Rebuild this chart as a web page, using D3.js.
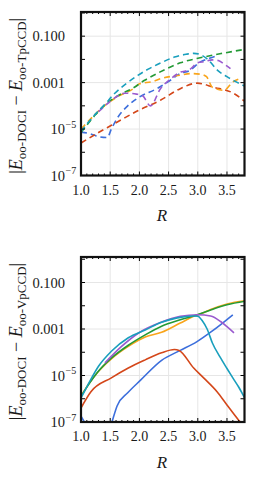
<!DOCTYPE html>
<html>
<head>
<meta charset="utf-8">
<script src="https://cdn.jsdelivr.net/npm/d3@7"></script>
<style>
body { margin: 0; background: #fff; }
text { font-family: 'Liberation Serif', 'DejaVu Serif', serif; fill: #1a1a1a; }
</style>
</head>
<body>
<svg id="chart" width="258" height="484"></svg>
<script>
// axis ticks
const xTicks = [1.0, 1.5, 2.0, 2.5, 3.0, 3.5]
const xTickLabels = ['1.0', '1.5', '2.0', '2.5', '3.0', '3.5']
const yTicks = [1e-1, 1e-3, 1e-5, 1e-7]
const yTickBase = ['0.100', '0.001', '10', '10']
const yTickExp = ['', '', '−5', '−7']
const seriesNames = ['blue', 'red', 'orange', 'green', 'purple', 'cyan']
const seriesColors = ['#3d6fdc', '#d4471a', '#f9a51b', '#249a36', '#9a5bcf', '#199fbd']

// top panel: oo-TpCCD (dashed)
const blueTpR = [1.0, 1.15, 1.3, 1.45, 1.52, 1.63, 1.8, 2.0, 2.3, 2.53, 2.7, 2.85, 3.05, 3.2, 3.35]
const blueTpV = [7.4e-6, 6.3e-6, 4.7e-6, 4.3e-6, 1e-5, 3.2e-5, 1e-4, 2.4e-4, 5.5e-4, 1.26e-3, 2.5e-3, 3.2e-3, 7.9e-3, 0.0112, 0.0151]
const redTpR = [1.0, 1.3, 1.52, 1.7, 1.98, 2.36, 2.7, 2.99, 3.27, 3.61, 3.82]
const redTpV = [2.5e-6, 7.1e-6, 1.45e-5, 2.6e-5, 6.3e-5, 1.74e-4, 5.5e-4, 9.5e-4, 6.3e-4, 3.5e-4, 1.45e-4]
const orangeTpR = [1.0, 1.25, 1.4, 1.64, 1.9, 2.0, 2.23, 2.37, 2.7, 2.87, 3.05, 3.15, 3.25, 3.45, 3.6, 3.73]
const orangeTpV = [1e-5, 4.5e-5, 1e-4, 2.6e-4, 5.6e-4, 8.9e-4, 1.12e-3, 1.5e-3, 2.1e-3, 2.45e-3, 2.3e-3, 1.8e-3, 6.3e-4, 4.7e-4, 1.07e-3, 1.5e-3]
const greenTpR = [1.0, 1.25, 1.4, 1.64, 1.9, 2.09, 2.32, 2.7, 3.06, 3.4, 3.82]
const greenTpV = [7.1e-6, 4.2e-5, 1.05e-4, 2.8e-4, 6.0e-4, 1.26e-3, 2.6e-3, 7.1e-3, 0.012, 0.0178, 0.0275]
const purpleTpR = [1.3, 1.41, 1.6, 1.75, 1.95, 2.05, 2.19, 2.36, 2.53, 2.7, 2.85, 3.0, 3.1, 3.25, 3.35, 3.45, 3.56]
const purpleTpV = [5.6e-5, 1.0e-4, 2.4e-4, 3.5e-4, 3.2e-4, 2.8e-4, 1.0e-4, 5.5e-4, 1.4e-3, 2.8e-3, 3.5e-3, 7.1e-3, 7.9e-3, 9.5e-3, 8.9e-3, 6.3e-3, 4.0e-3]
const cyanTpR = [1.0, 1.25, 1.4, 1.58, 1.78, 1.98, 2.15, 2.37, 2.6, 2.8, 2.93, 3.05, 3.16, 3.35, 3.5, 3.65, 3.8]
const cyanTpV = [7.9e-6, 4.5e-5, 1.1e-4, 3.5e-4, 9.3e-4, 2.1e-3, 3.8e-3, 7.1e-3, 0.0126, 0.0166, 0.0182, 0.0158, 0.0105, 3.2e-3, 1.8e-3, 1.1e-3, 7.1e-4]

// bottom panel: oo-VpCCD (solid)
const blueVpR = [1.0, 1.08, 1.15, 1.48, 1.53, 1.62, 1.8, 2.02, 2.38, 2.7, 2.98, 3.25, 3.6]
const blueVpV = [1.8e-7, 8e-8, 4e-8, 4e-8, 1e-7, 5e-7, 1.8e-6, 6.3e-6, 4.5e-5, 1.2e-4, 2.8e-4, 8.3e-4, 4.1e-3]
const redVpR = [1.0, 1.17, 1.52, 1.81, 2.1, 2.38, 2.6, 2.68, 2.93, 3.1, 3.33, 3.5, 3.7, 3.8]
const redVpV = [4e-7, 2e-6, 7.9e-6, 2.1e-5, 4.7e-5, 9.5e-5, 1.32e-4, 1.2e-4, 2.1e-5, 7.9e-6, 2e-6, 5.4e-7, 1.2e-7, 6.3e-8]
const orangeVpR = [1.0, 1.15, 1.29, 1.52, 1.81, 2.1, 2.38, 2.7, 2.93, 3.1, 3.22, 3.5, 3.82]
const orangeVpV = [1.32e-6, 5.0e-6, 1.41e-5, 5.2e-5, 1.78e-4, 4.5e-4, 7.2e-4, 1.8e-3, 3.5e-3, 5.0e-3, 6.9e-3, 0.012, 0.0166]
const greenVpR = [1.0, 1.15, 1.29, 1.52, 1.81, 2.1, 2.38, 2.7, 2.99, 3.22, 3.5, 3.82]
const greenVpV = [1.26e-6, 4.8e-6, 1.45e-5, 5.6e-5, 2.0e-4, 5.6e-4, 1.32e-3, 2.5e-3, 4.1e-3, 6.6e-3, 0.011, 0.0158]
const purpleVpR = [1.41, 1.69, 2.0, 2.36, 2.7, 3.0, 3.22, 3.39, 3.5, 3.62]
const purpleVpV = [3.5e-5, 1.74e-4, 7.1e-4, 1.9e-3, 3.5e-3, 4.1e-3, 3.6e-3, 2.1e-3, 1.26e-3, 6.8e-4]
const cyanVpR = [1.0, 1.15, 1.3, 1.52, 1.81, 2.1, 2.38, 2.65, 2.93, 3.0, 3.08, 3.16, 3.25, 3.38, 3.5, 3.6, 3.7, 3.8]
const cyanVpV = [1.07e-6, 5.6e-6, 2.5e-5, 1.1e-4, 4.2e-4, 9.1e-4, 1.95e-3, 3.0e-3, 3.6e-3, 3.55e-3, 2.2e-3, 1e-3, 2.5e-4, 6.3e-5, 2e-5, 7.9e-6, 3.2e-6, 1.12e-6]

const tpR = [blueTpR, redTpR, orangeTpR, greenTpR, purpleTpR, cyanTpR]
const tpV = [blueTpV, redTpV, orangeTpV, greenTpV, purpleTpV, cyanTpV]
const vpR = [blueVpR, redVpR, orangeVpR, greenVpR, purpleVpR, cyanVpR]
const vpV = [blueVpV, redVpV, orangeVpV, greenVpV, purpleVpV, cyanVpV]

const svg = d3.select('#chart')

function drawPanel(id, top, bottom, yMax, rs, vs, dashed, sub) {
    const x = d3.scaleLinear().domain([1, 3.8]).range([81, 244.5])
    const y = d3.scaleLog().domain([1e-7, yMax]).range([bottom, top])
    const g = svg.append('g')

    svg.append('clipPath').attr('id', id)
        .append('rect')
        .attr('x', 81).attr('y', top)
        .attr('width', 244.5 - 81).attr('height', bottom - top)

    // grid
    g.selectAll('.gx').data(xTicks.slice(1)).enter().append('line')
        .attr('x1', d => x(d)).attr('x2', d => x(d))
        .attr('y1', top).attr('y2', bottom)
        .attr('stroke', '#e6e6e6').attr('stroke-width', 1)
    g.selectAll('.gy').data(yTicks.slice(0, 3)).enter().append('line')
        .attr('x1', 81).attr('x2', 244.5)
        .attr('y1', d => y(d)).attr('y2', d => y(d))
        .attr('stroke', '#e6e6e6').attr('stroke-width', 1)

    // curves
    const line = d3.line()
        .x(d => x(d[0]))
        .y(d => y(d[1]))
        .curve(d3.curveMonotoneX)
    const lines = g.append('g').attr('clip-path', 'url(#' + id + ')')
    seriesNames.forEach((name, i) => {
        const pts = rs[i].map((r, j) => [r, vs[i][j]])
        lines.append('path')
            .datum(pts)
            .attr('d', line)
            .attr('fill', 'none')
            .attr('stroke', seriesColors[i])
            .attr('stroke-width', 1.6)
            .attr('stroke-dasharray', dashed ? '6,4' : null)
    })

    // frame ticks
    const minor = d3.range(10, 39).map(d => d / 10)
    minor.forEach(v => {
        const len = Math.abs(v * 2 - Math.round(v * 2)) < 1e-6 ? 4 : 2
        g.append('line').attr('x1', x(v)).attr('x2', x(v))
            .attr('y1', bottom).attr('y2', bottom - len)
            .attr('stroke', '#000').attr('stroke-width', 1)
        g.append('line').attr('x1', x(v)).attr('x2', x(v))
            .attr('y1', top).attr('y2', top + len)
            .attr('stroke', '#000').attr('stroke-width', 1)
    })
    d3.range(-7, 1).forEach(e => {
        const yy = y(Math.pow(10, e))
        g.append('line').attr('x1', 81).attr('x2', 85)
            .attr('y1', yy).attr('y2', yy).attr('stroke', '#000')
        g.append('line').attr('x1', 244.5).attr('x2', 240.5)
            .attr('y1', yy).attr('y2', yy).attr('stroke', '#000')
    })

    g.append('rect')
        .attr('x', 81).attr('y', top)
        .attr('width', 244.5 - 81).attr('height', bottom - top)
        .attr('fill', 'none').attr('stroke', '#111').attr('stroke-width', 2.2)

    // y tick labels
    yTicks.forEach((v, i) => {
        g.append('text')
            .attr('x', 65).attr('y', y(v) + 5)
            .attr('text-anchor', 'end')
            .attr('font-size', 14.5)
            .text(yTickBase[i])
        if (yTickExp[i]) {
            g.append('text')
                .attr('x', 65.5).attr('y', y(v) - 1.5)
                .attr('font-size', 10)
                .text(yTickExp[i])
        }
    })

    // x tick labels
    g.selectAll('.xl').data(xTicks).enter().append('text')
        .attr('x', d => x(d)).attr('y', bottom + 19)
        .attr('text-anchor', 'middle')
        .attr('font-size', 14)
        .text((d, i) => xTickLabels[i])

    g.append('text')
        .attr('x', 162).attr('y', bottom + 45.5)
        .attr('text-anchor', 'middle')
        .attr('font-size', 17)
        .attr('font-style', 'italic')
        .text('R')

    // y axis title
    const cy = (top + bottom) / 2 + 2
    const t = g.append('text')
        .attr('transform', 'translate(22,' + cy + ') rotate(-90)')
        .attr('text-anchor', 'middle')
        .attr('font-size', 18)
    t.append('tspan').text('|')
    t.append('tspan').attr('font-style', 'italic').text('E')
    t.append('tspan').attr('font-size', 13).attr('dy', 3.5).text('oo-DOCI')
    t.append('tspan').attr('dy', -3.5).text(' − ')
    t.append('tspan').attr('font-style', 'italic').text('E')
    t.append('tspan').attr('font-size', 13).attr('dy', 3.5).text('oo-' + sub)
    t.append('tspan').attr('dy', -3.5).text('|')
}

drawPanel('clipTop', 12, 175.5, 1.1, tpR, tpV, true, 'TpCCD')
drawPanel('clipBottom', 257, 422, 1.25, vpR, vpV, false, 'VpCCD')
</script>
</body>
</html>
